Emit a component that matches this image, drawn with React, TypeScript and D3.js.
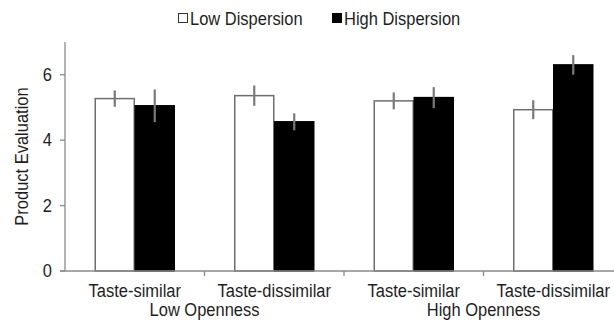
import React from 'react'
import { scaleBand, scaleLinear } from 'd3'

const categories = ['Taste-similar', 'Taste-dissimilar', 'Taste-similar', 'Taste-dissimilar']
const groups = ['Low Openness', 'High Openness']
const seriesNames = ['Low Dispersion', 'High Dispersion']
const lowDispersion = [5.27, 5.36, 5.2, 4.93]
const highDispersion = [5.05, 4.56, 5.3, 6.3]
const lowErr = [0.25, 0.31, 0.26, 0.29]
const highErr = [0.5, 0.26, 0.32, 0.3]
const yTicks = [0, 2, 4, 6]

const W = 614
const H = 322
const FONT = 'Liberation Sans, Arial, sans-serif'
const AXIS = '#8a8a8a'
const ERR = '#7a7a7a'

// the source image is a bit stretched vertically, text included
const Label = ({ x, y, anchor = 'start', size = 17, rotate = 0, children }: any) => (
    <text transform={`translate(${x},${y}) rotate(${rotate}) scale(0.97,1.1)`}
        textAnchor={anchor} fontSize={size} fill="#1e1e1e">
        {children}
    </text>
)

const App = () => {
    if (typeof document !== 'undefined') document.body.style.margin = '0'

    const left = 65
    const step = 139.5
    const x = scaleBand<number>()
        .domain(categories.map((c, i) => i))
        .range([left, left + step * categories.length])

    const inner = scaleBand<number>()
        .domain([0, 1])
        .range([0, x.bandwidth()])
        .paddingInner(0)
        .paddingOuter(0.744)

    const y = scaleLinear().domain([0, 7]).range([271, 42])

    const series = [
        { values: lowDispersion, err: lowErr, fill: '#fff', stroke: '#6e6e6e' },
        { values: highDispersion, err: highErr, fill: '#000', stroke: '#000' },
    ]

    // group labels sit on the boundary between their two categories
    const groupX = groups.map((g, gi) => x(gi * 2 + 1))

    return (
        <svg width={W} height={H} style={{ display: 'block', background: '#fff' }} fontFamily={FONT}>
            {/* legend */}
            <rect x={178.5} y={13.5} width={9} height={9} fill="#fff" stroke="#333" />
            <Label x={190} y={25}>{seriesNames[0]}</Label>
            <rect x={332} y={13} width={10} height={10} fill="#000" />
            <Label x={344} y={25}>{seriesNames[1]}</Label>

            {/* bars */}
            {series.map((s, si) =>
                s.values.map((v, i) => {
                    const bx = x(i) + inner(si)
                    const bw = inner.bandwidth()
                    return (
                        <rect key={`b${si}-${i}`} x={bx + 0.5} y={y(v)} width={bw - 1} height={y(0) - y(v)}
                            fill={s.fill} stroke={s.stroke} strokeWidth={1.5} />
                    )
                })
            )}

            {/* error bars */}
            {series.map((s, si) =>
                s.values.map((v, i) => {
                    const cx = x(i) + inner(si) + inner.bandwidth() / 2
                    return (
                        <line key={`e${si}-${i}`} x1={cx} x2={cx} y1={y(v + s.err[i])} y2={y(v - s.err[i])}
                            stroke={ERR} strokeWidth={2.2} />
                    )
                })
            )}

            {/* y axis */}
            <line x1={left} x2={left} y1={y(0)} y2={y(7)} stroke={AXIS} strokeWidth={1.3} />
            {yTicks.map(t => (
                <g key={t}>
                    <line x1={left - 5} x2={left} y1={y(t)} y2={y(t)} stroke={AXIS} strokeWidth={1.3} />
                    <Label x={52} y={y(t) + 6} anchor="end">{t}</Label>
                </g>
            ))}
            <Label x={28} y={y(3.5)} anchor="middle" rotate={-90}>Product Evaluation</Label>

            {/* x axis */}
            <line x1={left - 5} x2={W} y1={y(0)} y2={y(0)} stroke={AXIS} strokeWidth={1.3} />
            {categories.slice(1).map((c, i) => (
                <line key={`t${i}`} x1={x(i + 1)} x2={x(i + 1)} y1={y(0)} y2={y(0) + 5} stroke={AXIS} strokeWidth={1.3} />
            ))}
            {categories.map((c, i) => (
                <Label key={`c${i}`} x={x(i) + x.bandwidth() / 2} y={297} anchor="middle">{c}</Label>
            ))}
            {groups.map((g, gi) => (
                <Label key={g} x={groupX[gi]} y={316} anchor="middle">{g}</Label>
            ))}
        </svg>
    )
}

export default App
